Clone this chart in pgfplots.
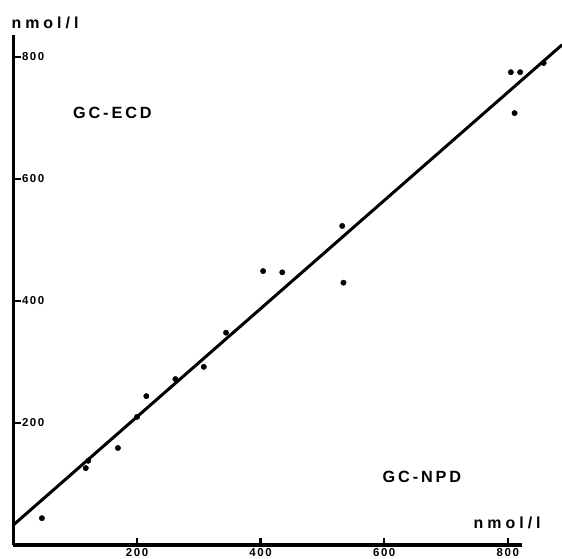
\documentclass[border=0pt]{standalone}
\usepackage{pgfplots}
\pgfplotsset{compat=1.18}
\usepackage{fontspec}
\setmainfont{Liberation Sans}
\newfontfamily\tickfont[LetterSpace=14]{Liberation Sans Bold}
\newfontfamily\bigfont[LetterSpace=18]{Liberation Sans Bold}
\newfontfamily\unitfont[LetterSpace=25]{Liberation Sans Bold}
\begin{document}
\begin{tikzpicture}
\useasboundingbox (0,0) rectangle (562bp,559bp);
\begin{axis}[
  at={(13.5bp,14bp)}, anchor=south west,
  scale only axis, width=508.5bp, height=510bp,
  xmin=0, xmax=823, ymin=0, ymax=836,
  axis x line*=bottom, axis y line*=left,
  axis line style={line width=3.5bp},
  xtick={200,400,600,800}, ytick={200,400,600,800},
  tick align=inside, major tick length=7bp,
  tick style={line width=2.5bp, black},
  /pgf/number format/assume math mode=true,
  ticklabel style={font=\tickfont\fontsize{11.5}{12}\selectfont},
  yticklabel style={anchor=west, xshift=5bp},
  clip=false,
]
\addplot[only marks, mark=*, mark size=2.7bp, black] coordinates {
(46,44) (117,126) (121,138) (169,159) (200,210) (215,244) (262,272)
(308,292) (344,348) (404,449) (435,447) (532,523) (534,430)
(805,775) (820,775) (811,708) (858,790)
};
\addplot[black, line width=3bp, no marks] coordinates {(0,33) (888,820)};
\node at (axis cs:160,708) {\bigfont\fontsize{16.3}{18}\selectfont GC-ECD};
\node at (axis cs:661,111) {\bigfont\fontsize{16.3}{18}\selectfont GC-NPD};
\node at (axis cs:51,856) {\unitfont\fontsize{16}{18}\selectfont nmol/l};
\node at (axis cs:799,36) {\unitfont\fontsize{16}{18}\selectfont nmol/l};
\end{axis}
\end{tikzpicture}
\end{document}
